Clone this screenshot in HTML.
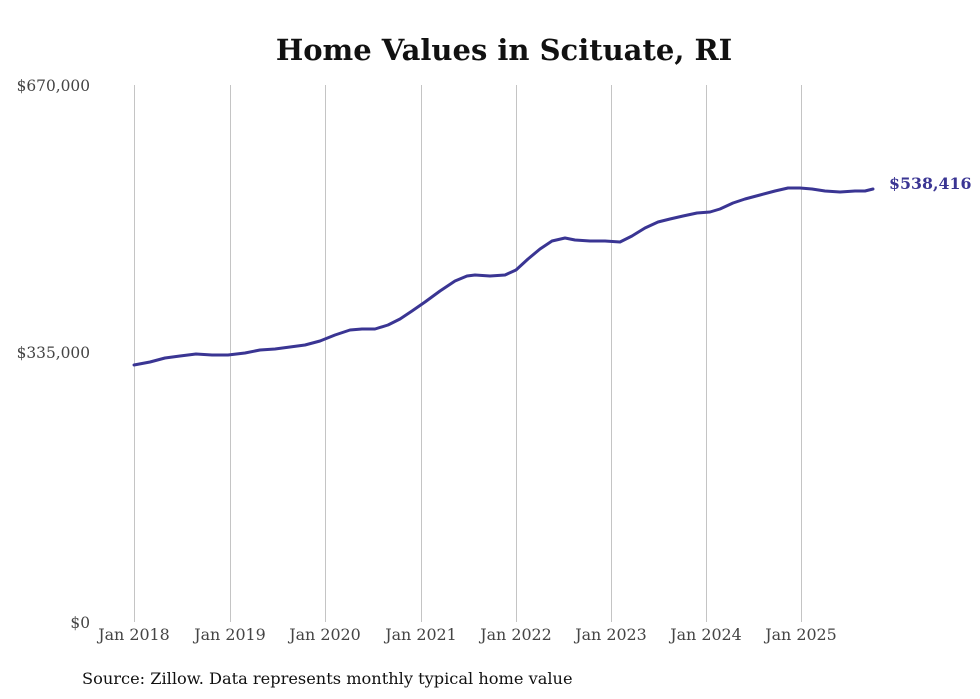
<!DOCTYPE html>
<html><head><meta charset="utf-8"><style>
html,body{margin:0;padding:0;background:#fff;}
svg{display:block;}
</style></head><body>
<svg width="980" height="699" viewBox="0 0 980 699" xmlns="http://www.w3.org/2000/svg">
<rect width="980" height="699" fill="#fff"/>
<text x="504" y="60" text-anchor="middle" font-family="'DejaVu Serif',serif" font-weight="bold" font-size="29" fill="#111">Home Values in Scituate, RI</text>
<g stroke="#c4c4c4" stroke-width="1">
<line x1="134.5" y1="85" x2="134.5" y2="622"/>
<line x1="230.5" y1="85" x2="230.5" y2="622"/>
<line x1="325.5" y1="85" x2="325.5" y2="622"/>
<line x1="421.5" y1="85" x2="421.5" y2="622"/>
<line x1="516.5" y1="85" x2="516.5" y2="622"/>
<line x1="611.5" y1="85" x2="611.5" y2="622"/>
<line x1="706.5" y1="85" x2="706.5" y2="622"/>
<line x1="801.5" y1="85" x2="801.5" y2="622"/>
</g>
<g font-family="'DejaVu Serif',serif" fill="#444">
<g font-size="15.4">
<text x="90" y="91" text-anchor="end">$670,000</text>
<text x="90" y="358" text-anchor="end">$335,000</text>
<text x="90" y="628" text-anchor="end">$0</text>
</g>
<g text-anchor="middle" font-size="15.9">
<text x="134" y="640">Jan 2018</text>
<text x="230" y="640">Jan 2019</text>
<text x="325" y="640">Jan 2020</text>
<text x="421" y="640">Jan 2021</text>
<text x="516" y="640">Jan 2022</text>
<text x="611" y="640">Jan 2023</text>
<text x="706" y="640">Jan 2024</text>
<text x="801" y="640">Jan 2025</text>
</g>
</g>
<polyline fill="none" stroke="#3a3593" stroke-width="3" stroke-linejoin="round" stroke-linecap="round"
points="134,365 150,362 165,358 180,356 196,354 212,355 228,355 245,353 260,350 275,349 290,347 305,345 320,341 335,335 350,330 362,329 375,329 388,325 400,319 412,311 425,302 440,291 455,281 467,276 475,275 490,276 505,275 516,270 528,259 540,249 552,241 565,238 575,240 590,241 605,241 620,242 632,236 645,228 658,222 670,219 683,216 697,213 710,212 720,209 733,203 745,199 760,195 775,191 788,188 800,188 812,189 825,191 840,192 855,191 865,191 873,189"/>
<text x="889" y="189" font-family="'DejaVu Serif',serif" font-weight="bold" font-size="15.8" fill="#3a3593">$538,416</text>
<text x="82" y="684" font-family="'DejaVu Serif',serif" font-size="16.2" fill="#111">Source: Zillow. Data represents monthly typical home value</text>
</svg>
</body></html>
